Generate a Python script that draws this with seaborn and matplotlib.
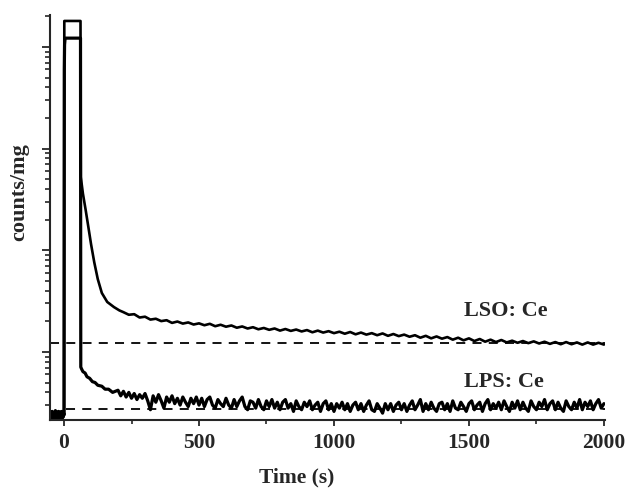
import numpy as np
import pandas as pd
import matplotlib
matplotlib.use("Agg")
import matplotlib.pyplot as plt
import seaborn as sns
from matplotlib.ticker import NullFormatter, LogLocator, MultipleLocator

# ---- data (time in s, counts/mg) ----
# LSO:Ce
lso_t_head = [-50, -47, -44, -41, -38, -35, -32, -29, -26, -23, -20, -17, -14,
              -11, -8, -5, -2, 0, 1, 61,
              62, 70, 80, 90, 100, 112, 125, 140, 160, 185, 205]
lso_v_head = [23, 26, 21.5, 25, 22, 26, 22, 24, 21.8, 26, 23, 25, 22, 26, 22.5,
              25, 23, 24, 180000, 180000,
              5250, 3600, 2500, 1700, 1150, 760, 520, 380, 310, 276, 256]
lso_t_tail = list(range(220, 2001, 20))
lso_v_tail = [246, 232, 235, 218, 222, 208, 212, 201, 205, 193,
              199, 190, 195, 186, 191, 183, 189, 179, 185, 177,
              182, 173, 178, 170, 175, 167, 172, 165, 170, 162,
              168, 161, 166, 159, 164, 156, 162, 155, 160, 153,
              158, 151, 157, 149, 155, 148, 153, 146, 152, 144,
              150, 143, 148, 141, 146, 138, 144, 136, 142, 135,
              140, 132, 138, 130, 136, 128, 134, 126, 132, 125,
              131, 124, 129, 123, 128, 122, 127, 121, 126, 120,
              125, 119, 125, 119, 124, 118, 124, 118, 123, 118]

# LPS:Ce
lps_t_head = [-50, -47, -44, -41, -38, -35, -32, -29, -26, -23, -20, -17, -14,
              -11, -8, -5, -2, 0, 1, 2, 4, 61,
              62, 65, 70, 78, 85, 95, 105, 115, 125, 140, 152, 165, 180, 190]
lps_v_head = [25, 22, 26, 21.6, 24, 22, 26.5, 22, 25, 21.8, 26, 23, 25.5, 22,
              26, 22.5, 25, 24, 60000, 105000, 122000, 122000,
              71, 68, 64, 62, 57, 55, 51, 50, 47, 46, 43, 43, 40, 41]
lps_t_tail = list(range(200, 2001, 10))
lps_v_tail = [42, 37, 41, 36, 40, 35, 39, 34, 38, 35,
              39, 33, 27, 37, 32, 38, 33, 28, 36, 32,
              37, 31, 35, 30, 36, 32, 29, 35, 31, 36,
              30, 35, 29, 34, 36, 30, 28, 34, 31, 29,
              35, 30, 28, 34, 29, 33, 36, 29, 27, 33,
              32, 28, 34, 29, 27, 33, 29, 34, 28, 32,
              27, 32, 34, 28, 31, 26, 33, 29, 27, 32,
              29, 33, 27, 30, 32, 26, 31, 33, 27, 31,
              26, 31, 28, 32, 27, 31, 26, 30, 32, 27,
              31, 26, 30, 33, 27, 26, 31, 28, 25, 31,
              27, 31, 26, 30, 32, 27, 31, 26, 30, 33,
              27, 30, 34, 26, 31, 27, 32, 28, 26, 31,
              32, 27, 31, 26, 33, 28, 27, 32, 29, 26,
              31, 33, 27, 30, 32, 26, 31, 34, 27, 31,
              28, 32, 27, 33, 29, 26, 32, 28, 33, 27,
              32, 28, 26, 33, 29, 27, 32, 29, 34, 27,
              31, 33, 27, 32, 28, 26, 33, 29, 27, 32,
              28, 34, 27, 32, 29, 33, 27, 31, 34, 28,
              31]

# background levels (dashed)
lso_bg = 122
lps_bg = 27.2

labels = ["LSO: Ce", "LPS: Ce"]
label_pos = [(1480, 225), (1480, 45)]

lso = pd.DataFrame({"t": lso_t_head + lso_t_tail, "v": lso_v_head + lso_v_tail})
lps = pd.DataFrame({"t": lps_t_head + lps_t_tail, "v": lps_v_head + lps_v_tail})

sns.set_style("ticks")
plt.rcParams["font.family"] = ["Liberation Serif", "DejaVu Serif"]
plt.rcParams["font.weight"] = "bold"

fig = plt.figure(figsize=(6.28, 4.9), dpi=100)
ax = fig.add_axes([50 / 628, 70 / 490, 555 / 628, 405 / 490])

sns.lineplot(data=lso, x="t", y="v", ax=ax, color="black", lw=1.9,
             estimator=None, sort=False)
sns.lineplot(data=lps, x="t", y="v", ax=ax, color="black", lw=2.3,
             estimator=None, sort=False)

ax.hlines(lso_bg, -52, 2004, colors="black", linestyles=(0, (5, 4)), lw=1.3)
ax.hlines(lps_bg, 8, 2004, colors="black", linestyles=(0, (5, 4)), lw=1.3)

for txt, (x, y) in zip(labels, label_pos):
    ax.text(x, y, txt, fontsize=16, fontweight="bold", ha="left", va="baseline")

ax.set_yscale("log")
ax.set_xlim(-52, 2004)
ax.set_ylim(21.4, 2.06e5)
ax.yaxis.set_major_locator(LogLocator(base=10))
ax.yaxis.set_minor_locator(LogLocator(base=10, subs=np.arange(2, 10)))
ax.yaxis.set_major_formatter(NullFormatter())
ax.yaxis.set_minor_formatter(NullFormatter())
ax.xaxis.set_major_locator(MultipleLocator(500))
ax.xaxis.set_minor_locator(MultipleLocator(250))

ax.tick_params(axis="y", which="major", direction="out", length=6, width=1.3)
ax.tick_params(axis="y", which="minor", direction="out", length=3.5, width=1.2)
ax.tick_params(axis="x", which="major", direction="out", length=4.5, width=1.3,
               labelsize=15.5, pad=5)
ax.tick_params(axis="x", which="minor", direction="out", length=3, width=1.2)
for lab in ax.get_xticklabels():
    lab.set_fontweight("bold")

sns.despine(ax=ax)
for s in ("left", "bottom"):
    ax.spines[s].set_linewidth(1.5)

ax.set_xlabel("Time (s)", fontsize=15.5, fontweight="bold")
ax.set_ylabel("counts/mg", fontsize=16, fontweight="bold")
ax.xaxis.set_label_coords(0.445, -0.118)
ax.yaxis.set_label_coords(-0.038, 0.563)

fig.savefig("out.png", dpi=100)
